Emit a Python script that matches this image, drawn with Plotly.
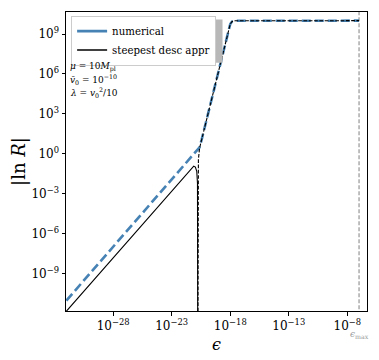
import numpy as np
import plotly.graph_objects as go

# ---- data (log10 values) ----
numerical_log_eps = [-32.0, -20.75, -20.62, -20.45, -19.3, -18.4, -18.15, -18.0, -17.85, -17.6, -7.0]
numerical_log_R   = [-11.0,   0.30,   0.50,   1.05,   5.20,   8.50,   9.35,   9.75,   9.93,   9.99, 10.0]

steep_solid_log_eps = [-32.0, -21.4, -21.25, -21.12, -20.98, -20.86, -20.8, -20.785, -20.78]
steep_solid_log_R   = [-11.8, -1.2, -1.0, -0.92, -0.98, -1.3, -2.2, -4.0, -13.0]

steep_dash_log_eps = [-20.76, -20.75, -20.72, -20.62, -20.45, -19.3, -18.4, -18.15, -18.0, -17.85, -17.6, -7.0]
steep_dash_log_R   = [-13.0, -2.0, -0.4, 0.45, 1.05, 5.20, 8.50, 9.35, 9.75, 9.93, 9.99, 10.0]

eps_max = 1e-7

x_tick_exps = [-28, -23, -18, -13, -8]
y_tick_exps = [-9, -6, -3, 0, 3, 6, 9]

def p10(v):
    return [10.0 ** a for a in v]

FONT = "DejaVu Serif, Liberation Serif, serif"
BLUE = "#4682b4"

fig = go.Figure()

fig.add_trace(go.Scatter(x=[eps_max, eps_max], y=[1e-13, 1e12], mode="lines",
                         line=dict(color="#808080", width=1, dash="4px,2px"),
                         showlegend=False, hoverinfo="skip"))
fig.add_trace(go.Scatter(x=p10(numerical_log_eps), y=p10(numerical_log_R), mode="lines",
                         line=dict(color=BLUE, width=2.6, dash="9px,4px"), showlegend=False))
fig.add_trace(go.Scatter(x=p10(steep_solid_log_eps), y=p10(steep_solid_log_R), mode="lines",
                         line=dict(color="black", width=1.1), showlegend=False))
fig.add_trace(go.Scatter(x=p10(steep_dash_log_eps), y=p10(steep_dash_log_R), mode="lines",
                         line=dict(color="black", width=1.1, dash="3.7px,1.6px"), showlegend=False))

# legend handles
fig.add_trace(go.Scatter(x=[None], y=[None], mode="lines", name="numerical",
                         line=dict(color=BLUE, width=2.6)))
fig.add_trace(go.Scatter(x=[None], y=[None], mode="lines", name="steepest desc appr",
                         line=dict(color="black", width=1.5)))

x_range = [-32.03, -6.32]
y_range = [-11.78, 10.65]

axis_common = dict(showline=True, linecolor="black", linewidth=1, mirror=True,
                   ticks="outside", ticklen=3.5, tickwidth=0.8, tickcolor="black",
                   showgrid=False, zeroline=False, automargin=False,
                   tickfont=dict(family=FONT, size=12, color="black"))

fig.update_xaxes(type="log", range=x_range,
                 tickvals=[10.0 ** e for e in x_tick_exps],
                 ticktext=[f"10<sup>\u2212{-e}</sup>" for e in x_tick_exps],
                 title=dict(text="<i>\u03f5</i>", font=dict(family=FONT, size=16, color="black"), standoff=6),
                 **axis_common)
fig.update_yaxes(type="log", range=y_range,
                 tickvals=[10.0 ** e for e in y_tick_exps],
                 ticktext=[(f"10<sup>\u2212{-e}</sup>" if e < 0 else f"10<sup>{e}</sup>") for e in y_tick_exps],
                 title=dict(text="|ln <i>R</i>|", font=dict(family=FONT, size=18, color="black"), standoff=4),
                 **axis_common)

# legend shadow
fig.add_shape(type="rect", xref="paper", yref="paper",
              x0=0.03, x1=0.52, y0=0.83, y1=0.975,
              fillcolor="#b8b8b8", line=dict(width=0), layer="above")

fig.update_layout(
    width=379, height=360,
    margin=dict(l=58, r=20, t=4, b=57),
    paper_bgcolor="white", plot_bgcolor="white",
    legend=dict(x=0.017, y=0.988, xanchor="left", yanchor="top",
                bgcolor="white", bordercolor="#cccccc", borderwidth=1,
                font=dict(family=FONT, size=10.2, color="black"),
                itemwidth=30, tracegroupgap=0),
)

ann_font = dict(family=FONT, size=9, color="black")
fig.add_annotation(xref="paper", yref="paper", x=0.008, y=0.815, xanchor="left", yanchor="middle",
                   text="<i>\u03bc</i> = 10<i>M</i><sub>pl</sub>", showarrow=False, font=ann_font)
fig.add_annotation(xref="paper", yref="paper", x=0.008, y=0.775, xanchor="left", yanchor="middle",
                   text="<i>v\u0304</i><sub>0</sub> = 10<sup>\u221210</sup>", showarrow=False, font=ann_font)
fig.add_annotation(xref="paper", yref="paper", x=0.008, y=0.73, xanchor="left", yanchor="middle",
                   text="<i>\u03bb</i> = <i>v</i><sub>0</sub><sup>2</sup>/10", showarrow=False, font=ann_font)
fig.add_annotation(xref="x", yref="paper", x=np.log10(eps_max) + 0.05, y=-0.08,
                   xanchor="center", yanchor="middle",
                   text="<i>\u03f5</i><sub>max</sub>", showarrow=False,
                   font=dict(family=FONT, size=9, color="#999999"))

fig.write_html("out.html")
